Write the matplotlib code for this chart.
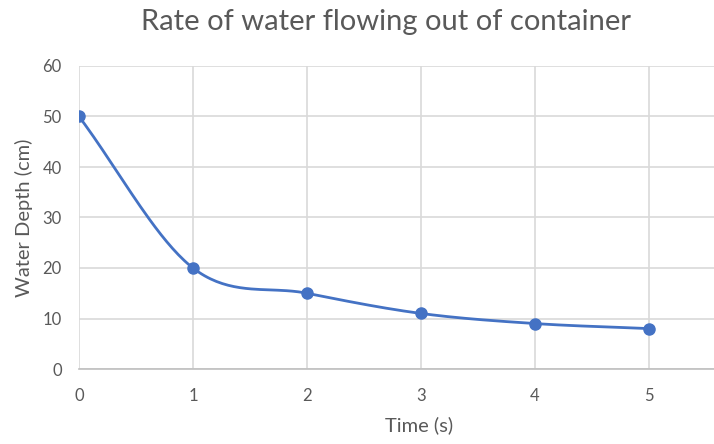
import numpy as np
import matplotlib.pyplot as plt

# данные
time_s = [0, 1, 2, 3, 4, 5]
depth_cm = [50, 20, 15, 11, 9, 8]
x_ticks = [0, 1, 2, 3, 4, 5]
y_ticks = [0, 10, 20, 30, 40, 50, 60]

plt.rcParams['font.family'] = ['Lato', 'DejaVu Sans']
text_color = '#595959'
line_color = '#4472C4'


# сглаженная линия как в Excel (Catmull-Rom)
def smooth(xs, ys, n=40):
    xs = np.asarray(xs, float)
    ys = np.asarray(ys, float)
    px = np.concatenate([[2 * xs[0] - xs[1]], xs, [2 * xs[-1] - xs[-2]]])
    py = np.concatenate([[2 * ys[0] - ys[1]], ys, [2 * ys[-1] - ys[-2]]])
    out_x, out_y = [], []
    t = np.linspace(0, 1, n)
    for i in range(1, len(px) - 2):
        mx1 = (px[i + 1] - px[i - 1]) / 2
        mx2 = (px[i + 2] - px[i]) / 2
        my1 = (py[i + 1] - py[i - 1]) / 2
        my2 = (py[i + 2] - py[i]) / 2
        h00 = 2 * t**3 - 3 * t**2 + 1
        h10 = t**3 - 2 * t**2 + t
        h01 = -2 * t**3 + 3 * t**2
        h11 = t**3 - t**2
        out_x.append(h00 * px[i] + h10 * mx1 + h01 * px[i + 1] + h11 * mx2)
        out_y.append(h00 * py[i] + h10 * my1 + h01 * py[i + 1] + h11 * my2)
    return np.concatenate(out_x), np.concatenate(out_y)


fig = plt.figure(figsize=(7.14, 4.44), dpi=100)
ax = fig.add_axes([79 / 714, 75 / 444, 1 - 79 / 714, 303 / 444])

sx, sy = smooth(time_s, depth_cm)
ax.plot(sx, sy, color=line_color, lw=2.0, zorder=3)
ax.plot(time_s, depth_cm, 'o', color=line_color, ms=8, zorder=4)

ax.set_xlim(0, 5.57)
ax.set_ylim(0, 60)
ax.set_xticks(x_ticks)
ax.set_yticks(y_ticks)
ax.grid(True, color='#D9D9D9', lw=1.2)
ax.set_axisbelow(True)
for s in ['top', 'right', 'left']:
    ax.spines[s].set_visible(False)
ax.spines['bottom'].set_color('#BFBFBF')
ax.spines['bottom'].set_linewidth(1.2)
ax.tick_params(length=0, colors=text_color, labelsize=12)
ax.tick_params(axis='x', pad=13.5)
ax.tick_params(axis='y', pad=12.5)

ax.set_xlabel('Time (s)', color=text_color, fontsize=14.5)
ax.xaxis.set_label_coords(0.535, -0.155)
ax.set_ylabel('Water Depth (cm)', color=text_color, fontsize=14.5, labelpad=7)
fig.text(0.54, 0.95, 'Rate of water flowing out of container', ha='center', va='center',
         color=text_color, fontsize=21)

plt.savefig('out.png', dpi=100)
